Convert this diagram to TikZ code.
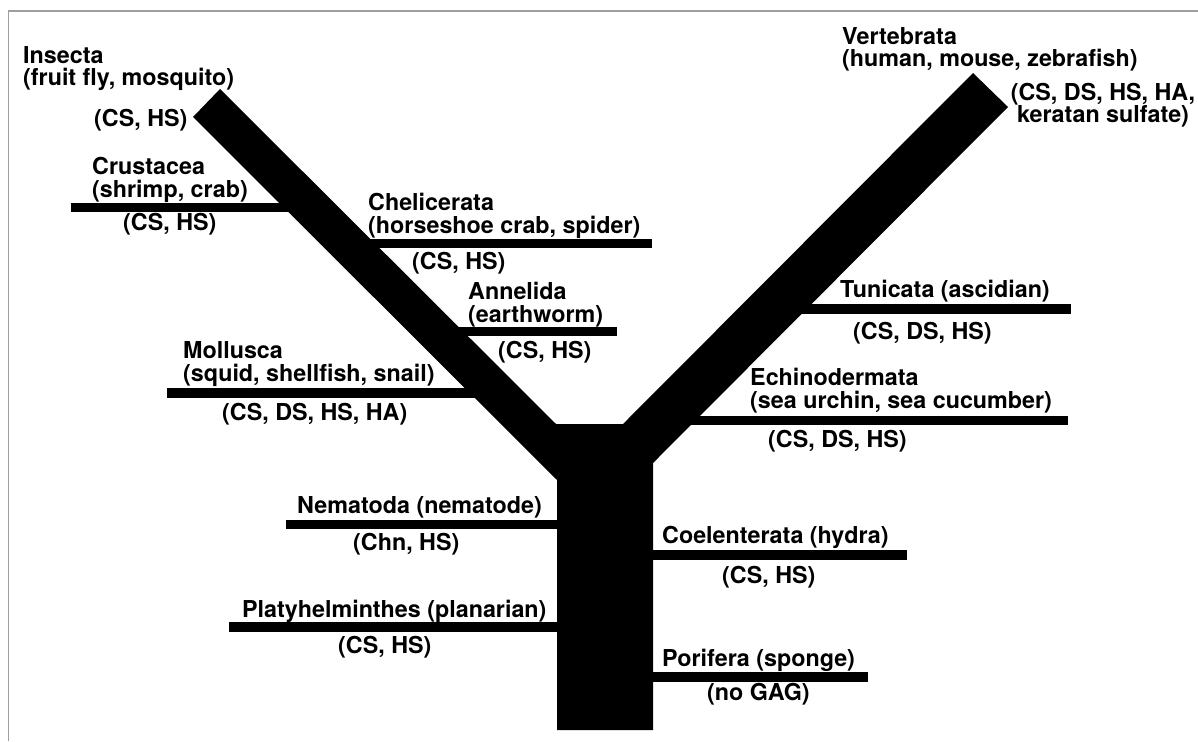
\documentclass[tikz,border=0pt]{standalone}
\usepackage{fontspec}
\setmainfont{TeX Gyre Heros}
\begin{document}
\begin{tikzpicture}[x=1pt,y=-1pt,
    lbl/.style={anchor=base west,inner sep=0pt,align=left,font=\fontsize{23.3}{22.5}\selectfont\bfseries},
    bar/.style={line width=9.5pt}]
    \useasboundingbox (0,0) rectangle (1198,741);
    \draw[gray!75,line width=1.5pt] (8.5,741)--(8.5,11)--(1198,11);

    \fill (557,730)--(557,480)--(193,117)--(220,89)--(556,424)--(623,424)--(973,73)--(1008,107)--(653,463)--(653,730)--cycle;

    \coordinate (crus-a) at (71,207.5);   \coordinate (crus-b) at (310,207.5);
    \coordinate (chel-a) at (345,243.5);  \coordinate (chel-b) at (652,243.5);
    \coordinate (anne-a) at (435,331.5);  \coordinate (anne-b) at (617,331.5);
    \coordinate (moll-a) at (167,393);    \coordinate (moll-b) at (497,393);
    \coordinate (tuni-a) at (772,309);    \coordinate (tuni-b) at (1071,309);
    \coordinate (echi-a) at (661,420.5);  \coordinate (echi-b) at (1068,420.5);
    \coordinate (nema-a) at (286,524.5);  \coordinate (nema-b) at (600,524.5);
    \coordinate (plat-a) at (229,627);    \coordinate (plat-b) at (600,627);
    \coordinate (coel-a) at (600,555);    \coordinate (coel-b) at (907,555);
    \coordinate (pori-a) at (600,677);    \coordinate (pori-b) at (868,677);

    \draw[bar] (crus-a)--(crus-b);
    \draw[bar] (chel-a)--(chel-b);
    \draw[bar] (anne-a)--(anne-b);
    \draw[bar] (moll-a)--(moll-b);
    \draw[bar] (tuni-a)--(tuni-b);
    \draw[bar] (echi-a)--(echi-b);
    \draw[bar] (nema-a)--(nema-b);
    \draw[bar] (plat-a)--(plat-b);
    \draw[bar] (coel-a)--(coel-b);
    \draw[bar] (pori-a)--(pori-b);

    \node[lbl] (insecta) at (23,86) {Insecta\\(fruit fly, mosquito)};
    \node[lbl] (insecta-gag) at (94,127) {(CS, HS)};
    \node[lbl] (crustacea) at (92,197) {Crustacea\\(shrimp, crab)};
    \node[lbl] (crustacea-gag) at (123,230) {(CS, HS)};
    \node[lbl] (chelicerata) at (368,233) {Chelicerata\\(horseshoe crab, spider)};
    \node[lbl] (chelicerata-gag) at (412,269) {(CS, HS)};
    \node[lbl] (annelida) at (468,322) {Annelida\\(earthworm)};
    \node[lbl] (annelida-gag) at (498,358) {(CS, HS)};
    \node[lbl] (mollusca) at (183,381) {Mollusca\\(squid, shellfish, snail)};
    \node[lbl] (mollusca-gag) at (222,420) {(CS, DS, HS, HA)};

    \node[lbl] (vertebrata) at (842,67) {Vertebrata\\(human, mouse, zebrafish)};
    \node[lbl,anchor=base,align=center,font=\fontsize{23.3}{17.5}\selectfont\bfseries] (vertebrata-gag) at (1103,123) {(CS, DS, HS, HA,\\keratan sulfate)};
    \node[lbl] (tunicata) at (840,297) {Tunicata (ascidian)};
    \node[lbl] (tunicata-gag) at (853,339) {(CS, DS, HS)};
    \node[lbl] (echinodermata) at (750,408) {Echinodermata\\(sea urchin, sea cucumber)};
    \node[lbl] (echinodermata-gag) at (768,447) {(CS, DS, HS)};

    \node[lbl] (nematoda) at (297,513) {Nematoda (nematode)};
    \node[lbl] (nematoda-gag) at (353,550) {(Chn, HS)};
    \node[lbl] (platyhelminthes) at (242,617) {Platyhelminthes (planarian)};
    \node[lbl] (platyhelminthes-gag) at (338,653) {(CS, HS)};
    \node[lbl] (coelenterata) at (662,543) {Coelenterata (hydra)};
    \node[lbl] (coelenterata-gag) at (722,583) {(CS, HS)};
    \node[lbl] (porifera) at (662,666) {Porifera (sponge)};
    \node[lbl] (porifera-gag) at (707,700) {(no GAG)};
\end{tikzpicture}
\end{document}
